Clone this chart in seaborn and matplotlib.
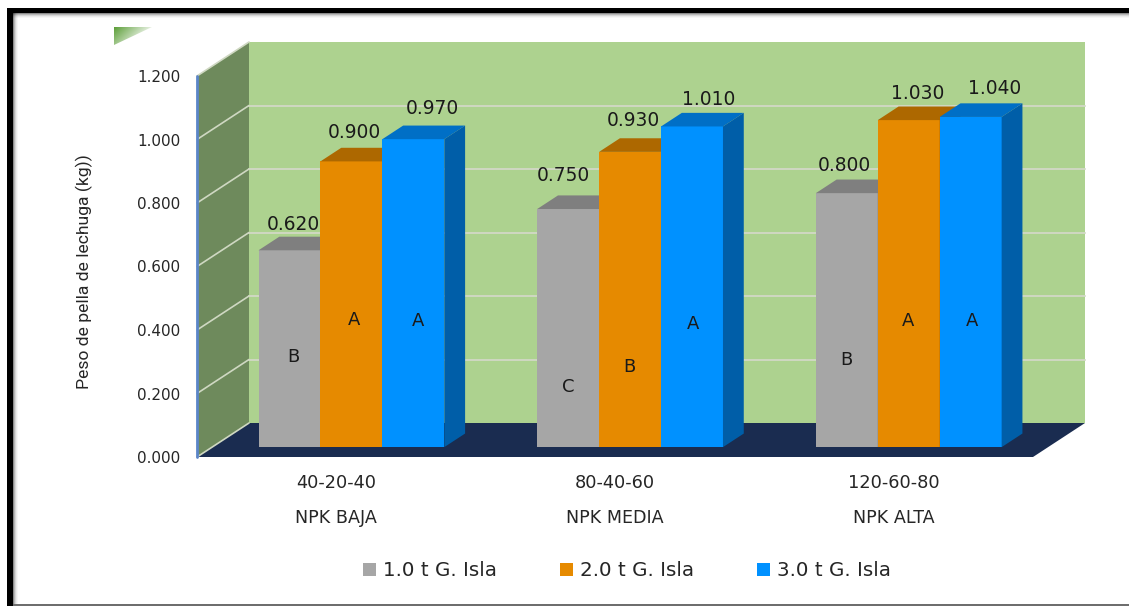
import numpy as np
import pandas as pd
import matplotlib
matplotlib.use("Agg")
import matplotlib.pyplot as plt
from matplotlib.patches import Polygon, Rectangle
import seaborn as sns

# Lettuce head weight by NPK level and island guano dose
npk_levels = ["40-20-40", "80-40-60", "120-60-80"]
npk_names = ["NPK BAJA", "NPK MEDIA", "NPK ALTA"]
doses = ["1.0 t G. Isla", "2.0 t G. Isla", "3.0 t G. Isla"]
dose_1 = [0.620, 0.750, 0.800]
dose_2 = [0.900, 0.930, 1.030]
dose_3 = [0.970, 1.010, 1.040]
letters_1 = ["B", "C", "B"]
letters_2 = ["A", "B", "A"]
letters_3 = ["A", "A", "A"]

W, H = 1129, 606
FACE = ["#a6a6a6", "#e68a00", "#0091ff"]
TOP = ["#7f7f7f", "#ad6800", "#006fc6"]
SIDE = ["#6f6f6f", "#a05f00", "#005ea8"]
INK = "#262626"

sns.set_theme(style="white")
plt.rcParams["font.family"] = ["DejaVu Sans"]

table = pd.DataFrame({
    "level": npk_levels * 3,
    "dose": np.repeat(doses, 3),
    "weight": dose_1 + dose_2 + dose_3,
})

fig = plt.figure(figsize=(W / 100, H / 100), dpi=100, facecolor="white")
ax = fig.add_axes([197 / W, (H - 457) / H, 836 / W, 381 / H])
ax.patch.set_alpha(0)

sns.barplot(data=table, x="level", y="weight", hue="dose", palette=FACE,
            saturation=1, width=2 / 3, gap=0, errorbar=None, linewidth=0,
            edgecolor="none", ax=ax, legend=True)
ax.set_xlim(-0.5, 2.5)
ax.set_ylim(0, 1.2)

# Oblique projection: one unit of depth in data units on both axes
DX = 52 / (836 / 3)
DY = 34 / (381 / 1.2)
FRONT, BACK = 0.29, 0.69
WALL = "#add28f"
SIDE_WALL = "#6e8a5c"
FLOOR = "#1a2c50"
GRID = "#cfd8c2"


def shape(points, color, z):
    ax.add_patch(Polygon(points, closed=True, facecolor=color, edgecolor="none",
                         linewidth=0, clip_on=False, zorder=z))


x0, x1, ymax = -0.5, 2.5, 1.2
shape([(x0 + DX, DY), (x1 + DX, DY), (x1 + DX, ymax + DY), (x0 + DX, ymax + DY)], WALL, 0.1)
shape([(x0, 0), (x0 + DX, DY), (x0 + DX, ymax + DY), (x0, ymax)], SIDE_WALL, 0.1)
shape([(x0, 0), (x1, 0), (x1 + DX, DY), (x0 + DX, DY)], FLOOR, 0.2)

for tick in np.arange(0, 1.4, 0.2):
    ax.plot([x0, x0 + DX], [tick, tick + DY], color=GRID, lw=1.2, clip_on=False, zorder=0.3)
    if 0 < tick < 1.1:
        ax.plot([x0 + DX, x1 + DX], [tick + DY, tick + DY], color=GRID, lw=1.4,
                clip_on=False, zorder=0.3)
ax.plot([x0, x0], [0, ymax], color="#5b85c8", lw=2, clip_on=False, zorder=0.4)

# Manual placement of value labels and significance letters, in pixels from each bar
# (rows are NPK levels, columns are guano doses)
value_offsets = [[(4, 223), (3, 315), (19, 339)],
                 [(-5, 272), (3, 327), (17, 348)],
                 [(-2, 282), (9, 354), (24, 359)]]
letter_offsets = [[(4, 90), (3, 127), (5, 126)],
                  [(0, 60), (-1, 80), (1, 123)],
                  [(0, 87), (-1, 126), (1, 126)]]
letters = [letters_1, letters_2, letters_3]

for s, container in enumerate(ax.containers):
    for g, bar in enumerate(container):
        x, w, h = bar.get_x() + FRONT * DX, bar.get_width(), bar.get_height()
        base = FRONT * DY
        bar.set_x(x)
        bar.set_y(base)
        bar.set_zorder(2 + s)
        ddx, ddy = (BACK - FRONT) * DX, (BACK - FRONT) * DY
        shape([(x, base + h), (x + w, base + h), (x + w + ddx, base + h + ddy), (x + ddx, base + h + ddy)],
              TOP[s], 2 + s)
        shape([(x + w, base), (x + w, base + h), (x + w + ddx, base + h + ddy), (x + w + ddx, base + ddy)],
              SIDE[s], 2 + s)
        ax.annotate(f"{h:.3f}", xy=(x + w / 2, base), xytext=value_offsets[g][s],
                    textcoords="offset pixels", ha="center", va="center",
                    fontsize=13.4, color="#1a1a1a", zorder=10)
        ax.annotate(letters[s][g], xy=(x + w / 2, base), xytext=letter_offsets[g][s],
                    textcoords="offset pixels", ha="center", va="center",
                    fontsize=13, color="#1a1a1a", zorder=10)

sns.despine(ax=ax, left=True, bottom=True)
ax.set_xlabel("")
ax.set_ylabel("")
ax.set_yticks(np.arange(0, 1.4, 0.2))
ax.set_yticklabels([f"{t:.3f}" for t in np.arange(0, 1.4, 0.2)], fontsize=10.9, color=INK)
ax.set_xticks(range(3))
ax.set_xticklabels(npk_levels, fontsize=12.8, color=INK)
ax.tick_params(axis="y", length=0, pad=12)
ax.tick_params(axis="x", length=0, pad=12)
for i, name in enumerate(npk_names):
    ax.annotate(name, xy=(i, 0), xycoords=("data", "axes fraction"), xytext=(0, -61),
                textcoords="offset pixels", ha="center", va="center",
                fontsize=12.6, color=INK)

fig.text(84 / W, 1 - 272 / H, "Peso de pella de lechuga (kg))", rotation=90,
         ha="center", va="center", fontsize=12.6, color=INK, family="Roboto")

handles, labels = ax.get_legend_handles_labels()
ax.legend(handles, labels, loc="center", bbox_to_anchor=(627 / W, 1 - 571 / H),
          bbox_transform=fig.transFigure, ncol=3, frameon=False, fontsize=14.3,
          handlelength=0.68, handleheight=0.68, handletextpad=0.35, columnspacing=3.15,
          labelcolor=INK)


def px_rect(x, y, w, h, color, alpha=1.0):
    fig.add_artist(Rectangle((x / W, 1 - (y + h) / H), w / W, h / H, transform=fig.transFigure,
                             facecolor=color, edgecolor="none", alpha=alpha, zorder=20))


# Picture frame: heavy black top and left edges with a soft inner shadow
px_rect(7, 8, W - 7, 5, "black")
px_rect(7, 8, 6, H - 8, "black")
for i, a in enumerate([0.45, 0.28, 0.16, 0.08, 0.03]):
    px_rect(13, 13 + i, W - 13, 1, "black", a)
    px_rect(13 + i, 13, 1, H - 13, "black", a)
px_rect(13, H - 2, W - 13, 1.5, "#6e6e6e")

# Small green wedge in the upper left corner, fading out to white
wedge = fig.add_axes([114 / W, 1 - 45 / H, 38 / W, 18 / H])
wedge.axis("off")
u, v = np.meshgrid(np.linspace(0, 1, 76), np.linspace(0, 1, 36))
fade = np.clip(1 - u * 0.85 - v * 0.4, 0, 1)
rgb = np.ones((36, 76, 3))
for c, level in enumerate((0.36, 0.62, 0.22)):
    rgb[..., c] = 1 - fade * (1 - level)
img = wedge.imshow(rgb, extent=(0, 1, 0, 1), aspect="auto", origin="upper")
clip = Polygon([(0, 1), (1, 1), (0, 0)], transform=wedge.transData, facecolor="none", edgecolor="none")
wedge.add_patch(clip)
img.set_clip_path(clip)

fig.savefig("out.png", dpi=100, facecolor="white")
